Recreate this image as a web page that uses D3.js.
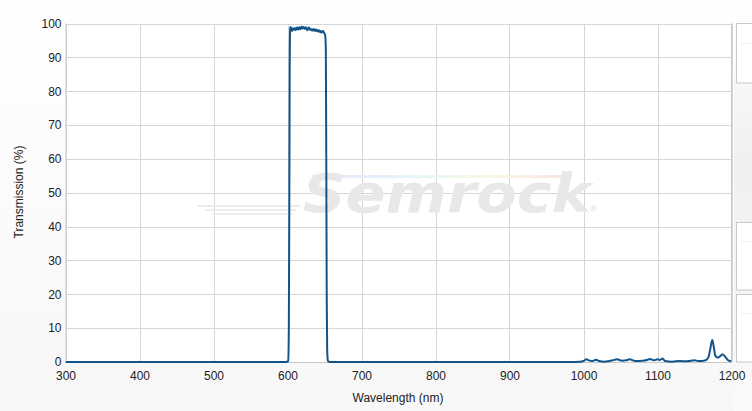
<!DOCTYPE html>
<html><head><meta charset="utf-8">
<script src="https://cdn.jsdelivr.net/npm/d3@7"></script>
<style>
html,body{margin:0;padding:0;background:#fff;}
svg{display:block;font-family:"Liberation Sans",Arial,sans-serif;}
</style></head>
<body>
<svg id="chart" width="752" height="411"></svg>
<script>
// ---- data ----
const wavelength = [300,598,601,601.8,602.5,603,603.6,604.3,605,606,607,608,609,610,611,612,613,614,615,616,617,618,619,620,621,622,623,624,625,626,627,628,629,630,631,632,633,634,635,636,637,638,639,640,641,642,643,644,645,646,647,648,649,650,651,651.8,652.4,653,653.6,654.3,655,657,
  980,995,1000,1004,1008,1012,1017,1021,1028,1035,1040,1045,1052,1058,1062,1070,1080,1086,1090,1095,1100,1103,1107,1110,1120,1130,1140,1150,1155,1160,1165,1169,1171,1174,1176,1178,1181,1184,1188,1191,1195,1200];
const transmission = [0,0,0.3,10,50,88,98.6,99.0,98.2,97.8,98.6,98.1,98.3,98.7,98.0,98.4,98.8,98.2,98.5,98.9,98.3,98.6,99.1,98.5,98.8,99.0,98.4,98.7,98.9,98.3,98.0,98.6,98.8,98.2,98.4,98.0,98.3,97.9,98.1,98.4,97.8,98.0,98.2,97.7,98.0,97.6,97.9,97.5,97.8,97.3,97.6,97.8,97.4,97.0,96.5,92,60,20,4,0.8,0.2,0,
  0,0.1,0.3,0.8,0.4,0.3,0.7,0.3,0.1,0.3,0.5,0.8,0.4,0.5,0.8,0.3,0.4,0.6,0.9,0.5,0.8,0.6,1.0,0.3,0.1,0.3,0.2,0.5,0.3,0.3,0.5,1.5,3.5,6.5,4.5,2,1.3,1.6,2.3,1.7,0.6,0.2];
const xTicks = [300,400,500,600,700,800,900,1000,1100,1200];
const yTicks = [0,10,20,30,40,50,60,70,80,90,100];
const xTitle = "Wavelength (nm)";
const yTitle = "Transmission (%)";
const brand = "Semrock";

// ---- layout ----
const svg = d3.select("#chart");
const W = 752, H = 411;
const m = {left:65.5, right:731.5, top:23.5, bottom:362};

const defs = svg.append("defs");
const bg = defs.append("linearGradient").attr("id","bg").attr("x1",0).attr("y1",0).attr("x2",0).attr("y2",1);
bg.append("stop").attr("offset","0%").attr("stop-color","#ffffff");
bg.append("stop").attr("offset","100%").attr("stop-color","#f7f7f7");
const side = defs.append("linearGradient").attr("id","side").attr("x1",0).attr("y1",0).attr("x2",0).attr("y2",1);
side.append("stop").attr("offset","0%").attr("stop-color","#ffffff");
side.append("stop").attr("offset","40%").attr("stop-color","#f0f0f0");
side.append("stop").attr("offset","100%").attr("stop-color","#fafafa");
const rainbow = defs.append("linearGradient").attr("id","rainbow").attr("x1",0).attr("y1",0).attr("x2",1).attr("y2",0);
[["0%","#ece8f7"],["25%","#e6eefb"],["45%","#e8f7f7"],["60%","#eff8e6"],["75%","#faf6e4"],["100%","#f9e6e6"]].forEach(s=>rainbow.append("stop").attr("offset",s[0]).attr("stop-color",s[1]));
defs.append("clipPath").attr("id","clip").append("rect")
  .attr("x",m.left).attr("y",m.top-10).attr("width",m.right-m.left).attr("height",m.bottom-m.top+12);

svg.append("rect").attr("width",W).attr("height",H).attr("fill","url(#bg)");
svg.append("rect").attr("x",734).attr("y",0).attr("width",W-734).attr("height",H).attr("fill","url(#side)");
// side panels
[[736,23.5,59.5,43.5],[736,222.5,67.5,241.5],[736,294.5,67.5,313.5]].forEach(p=>{
  svg.append("rect").attr("x",p[0]+0.5).attr("y",p[1]).attr("width",30).attr("height",p[2])
    .attr("fill","#fff").attr("stroke","#c8c8c8");
  svg.append("line").attr("x1",p[0]+4).attr("x2",W).attr("y1",p[3]).attr("y2",p[3]).attr("stroke","#f0f0f0");
});

svg.append("rect").attr("x",m.left).attr("y",m.top).attr("width",m.right-m.left).attr("height",m.bottom-m.top).attr("fill","#fff");

const x = d3.scaleLinear().domain([300,1200]).range([m.left,m.right]);
const y = d3.scaleLinear().domain([0,100]).range([m.bottom,m.top]);

// grid
svg.append("g").selectAll("line").data(xTicks).join("line")
  .attr("x1",d=>Math.round(x(d))+0.5).attr("x2",d=>Math.round(x(d))+0.5)
  .attr("y1",m.top).attr("y2",m.bottom).attr("stroke","#d6d6d6");
svg.append("g").selectAll("line").data(yTicks).join("line")
  .attr("x1",m.left).attr("x2",m.right)
  .attr("y1",d=>Math.round(y(d))+0.5).attr("y2",d=>Math.round(y(d))+0.5).attr("stroke","#d6d6d6");

// watermark
const wm = svg.append("g");
wm.append("rect").attr("x",312).attr("y",175).attr("width",250).attr("height",3).attr("fill","url(#rainbow)");
[[198,300,205],[205,296,209],[212,292,213]].forEach(l=>
  wm.append("rect").attr("x",l[0]).attr("y",l[2]).attr("width",l[1]-l[0]).attr("height",2).attr("fill","#ececec"));
wm.append("text").text(brand).attr("x",303).attr("y",212)
  .attr("font-family","'DejaVu Sans',sans-serif").attr("font-weight","bold").attr("font-style","italic")
  .attr("font-size",54).attr("textLength",288).attr("lengthAdjust","spacingAndGlyphs")
  .attr("fill","#e8e8e8");
wm.append("text").text("®").attr("x",590).attr("y",212).attr("font-size",9).attr("fill","#e0e0e0");

// axes
const xAxis = svg.append("g").attr("transform",`translate(0,${m.bottom})`)
  .call(d3.axisBottom(x).tickValues(xTicks).tickFormat(d3.format("d")).tickSize(0).tickPadding(9));
xAxis.select(".domain").remove();
xAxis.selectAll("text").attr("font-size",12).attr("fill","#222").attr("font-family","'Liberation Sans',Arial,sans-serif");
const yAxis = svg.append("g").attr("transform",`translate(${m.left},0)`)
  .call(d3.axisLeft(y).tickValues(yTicks).tickFormat(d3.format("d")).tickSize(0).tickPadding(4));
yAxis.select(".domain").remove();
yAxis.selectAll("text").attr("font-size",12).attr("fill","#222").attr("font-family","'Liberation Sans',Arial,sans-serif");

svg.append("line").attr("x1",m.left+0.5).attr("x2",m.left+0.5).attr("y1",m.top).attr("y2",m.bottom).attr("stroke","#c8c8c8");
svg.append("line").attr("x1",m.right).attr("x2",m.right).attr("y1",m.top).attr("y2",m.bottom).attr("stroke","#c8c8c8");
svg.append("line").attr("x1",m.left).attr("x2",m.right).attr("y1",m.bottom+0.5).attr("y2",m.bottom+0.5).attr("stroke","#c8c8c8");

svg.append("text").text(xTitle).attr("x",398).attr("y",402).attr("text-anchor","middle")
  .attr("font-size",12).attr("fill","#222");
svg.append("text").text(yTitle).attr("transform","translate(23,192) rotate(-90)").attr("text-anchor","middle")
  .attr("font-size",12).attr("fill","#222");

// line
const pts = wavelength.map((w,i)=>[w,transmission[i]]);
svg.append("path").datum(pts).attr("clip-path","url(#clip)")
  .attr("fill","none").attr("stroke","#11548a").attr("stroke-width",2).attr("stroke-linejoin","round")
  .attr("d",d3.line().x(d=>x(d[0])).y(d=>y(d[1])).curve(d3.curveMonotoneX));
</script>
</body></html>
